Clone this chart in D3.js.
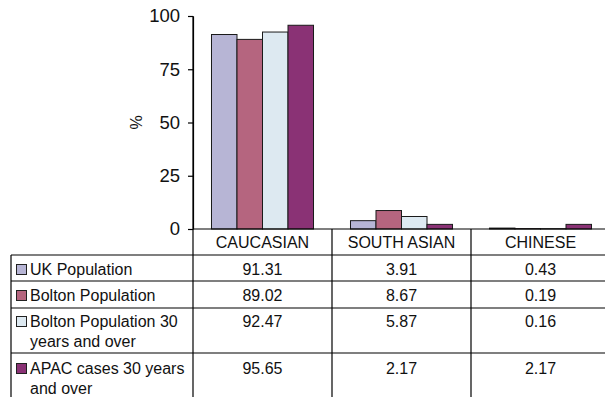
<!DOCTYPE html>
<html>
<head>
<meta charset="utf-8">
<script src="https://cdn.jsdelivr.net/npm/d3@7"></script>
<style>
  html, body { margin: 0; padding: 0; background: #fff; }
  svg { display: block; font-family: "Liberation Sans", Arial, Helvetica, sans-serif; }
</style>
</head>
<body>
<svg id="chart" width="605" height="397"></svg>
<script>
// Ethnic group categories along the x axis
const categories = ["CAUCASIAN", "SOUTH ASIAN", "CHINESE"];

// Series names, split into the lines shown in the data table
const seriesNames = ["UK Population", "Bolton Population", "Bolton Population 30 years and over", "APAC cases 30 years and over"];
const seriesLines = [
  ["UK Population"],
  ["Bolton Population"],
  ["Bolton Population 30", "years and over"],
  ["APAC cases 30 years", "and over"]
];

// Percentages per series, in category order
const ukPopulation = [91.31, 3.91, 0.43];
const boltonPopulation = [89.02, 8.67, 0.19];
const boltonOver30 = [92.47, 5.87, 0.16];
const apacOver30 = [95.65, 2.17, 2.17];
const seriesValues = [ukPopulation, boltonPopulation, boltonOver30, apacOver30];

const seriesColors = ["#b7b5d5", "#b5657f", "#dde9f1", "#8a3275"];

const yTicks = [0, 25, 50, 75, 100];
const yLabel = "%";

// Layout
const plotLeft = 193, plotRight = 610, plotTop = 16, plotBottom = 229;
const tableLeft = 11, tableBottom = 397, tableRight = 605;
const headerBottom = 255;
const rowBottoms = [281, 308, 353, 397];

const svg = d3.select("#chart");

const x = d3.scaleBand().domain(categories).range([plotLeft, plotRight]).paddingInner(0).paddingOuter(0);
const xs = d3.scaleBand().domain(d3.range(seriesNames.length)).range([0, x.bandwidth()]).paddingInner(0).paddingOuter(0.725);
const y = d3.scaleLinear().domain([0, 100]).range([plotBottom, plotTop]);

// Bars
const rows = [];
seriesValues.forEach((vals, s) => vals.forEach((v, c) => rows.push({ s, c: categories[c], v })));

svg.append("g").selectAll("rect").data(rows).join("rect")
  .attr("x", d => x(d.c) + xs(d.s))
  .attr("y", d => y(d.v))
  .attr("width", xs.bandwidth())
  .attr("height", d => y(0) - y(d.v))
  .attr("fill", d => seriesColors[d.s])
  .attr("stroke", "#1a1a1a")
  .attr("stroke-width", 1);

// Y axis
const yAxis = svg.append("g")
  .attr("transform", `translate(${plotLeft},0)`)
  .call(d3.axisLeft(y).tickValues(yTicks).tickSize(5).tickSizeOuter(0).tickPadding(8));
yAxis.selectAll("path, line").attr("stroke", "#000").attr("stroke-width", 1.2);
yAxis.selectAll("text")
  .attr("font-size", 18.5)
  .attr("fill", "#111")
  .attr("font-family", "'Liberation Sans', Arial, sans-serif");

svg.append("text")
  .attr("transform", `translate(142,${(plotTop + plotBottom) / 2}) rotate(-90)`)
  .attr("text-anchor", "middle")
  .attr("font-size", 16)
  .attr("fill", "#111")
  .text(yLabel);

// Data table grid
const grid = svg.append("g").attr("stroke", "#000").attr("stroke-width", 1.2);
grid.append("line").attr("x1", plotLeft).attr("x2", tableRight).attr("y1", plotBottom).attr("y2", plotBottom);
[headerBottom, ...rowBottoms.slice(0, -1)].forEach(yy => {
  grid.append("line").attr("x1", tableLeft).attr("x2", tableRight).attr("y1", yy).attr("y2", yy);
});
grid.append("line").attr("x1", tableLeft).attr("x2", tableLeft).attr("y1", headerBottom).attr("y2", tableBottom);
grid.append("line").attr("x1", plotLeft).attr("x2", plotLeft).attr("y1", plotTop).attr("y2", tableBottom);
categories.slice(1).forEach(c => {
  grid.append("line").attr("x1", x(c)).attr("x2", x(c)).attr("y1", plotBottom).attr("y2", tableBottom);
});

// Category header labels
svg.append("g").selectAll("text").data(categories).join("text")
  .attr("x", d => x(d) + x.bandwidth() / 2)
  .attr("y", 248)
  .attr("text-anchor", "middle")
  .attr("font-size", 16)
  .attr("fill", "#111")
  .text(d => d);

// Table rows: legend swatch, series label and values
const rowTops = [headerBottom, ...rowBottoms.slice(0, -1)];
const baselineOffset = [20, 20, 19, 21];
seriesNames.forEach((name, s) => {
  const base = rowTops[s] + baselineOffset[s];
  const g = svg.append("g");
  g.append("rect")
    .attr("x", 16.5).attr("y", base - 10.5)
    .attr("width", 10).attr("height", 10)
    .attr("fill", seriesColors[s])
    .attr("stroke", "#222").attr("stroke-width", 1);
  g.selectAll("text.label").data(seriesLines[s]).join("text")
    .attr("class", "label")
    .attr("x", 30)
    .attr("y", (d, i) => base + i * 20)
    .attr("font-size", 16)
    .attr("fill", "#111")
    .text(d => d);
  g.selectAll("text.value").data(seriesValues[s]).join("text")
    .attr("class", "value")
    .attr("x", (d, i) => x(categories[i]) + x.bandwidth() / 2)
    .attr("y", base)
    .attr("text-anchor", "middle")
    .attr("font-size", 16)
    .attr("fill", "#111")
    .text(d => d.toFixed(2));
});
</script>
</body>
</html>
